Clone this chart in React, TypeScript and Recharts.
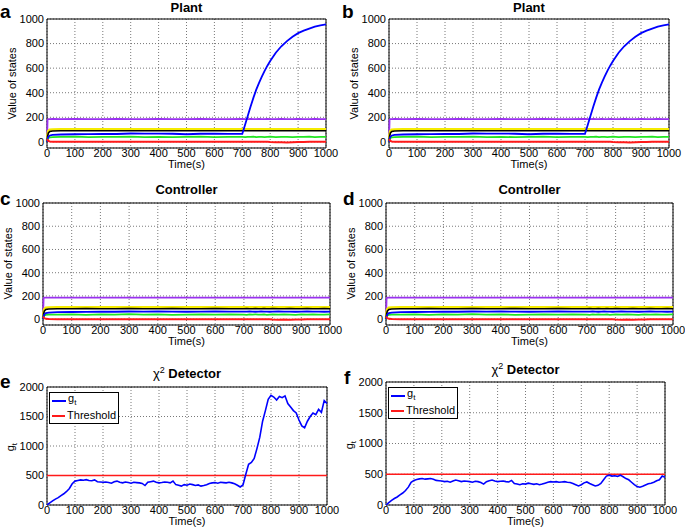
import React from "react"
import {
  LineChart, Line, XAxis, YAxis, CartesianGrid, ReferenceArea, ReferenceLine,
} from "recharts"

// sample times for the state plots (s)
const stateTime = [0, 2, 5, 10, 20, 50, 100, 150, 200, 250, 300, 350, 400, 450, 500, 550, 600, 650, 700,
  710, 720, 730, 740, 750, 760, 770, 780, 790, 800, 820, 840, 860, 880, 900, 920, 940, 960, 980, 1000]

const plantBlue = [0, 25, 42, 52, 57, 60, 62, 63, 64, 64, 68, 67, 67, 66, 62, 66, 66, 65, 65,
  140, 215, 290, 360, 425, 480, 530, 578, 620, 658, 725, 778, 820, 855, 885, 905, 922, 937, 948, 957]
const ctrlBlue = [0, 25, 42, 52, 57, 60, 62, 63, 64, 64, 66, 65, 66, 65, 64, 65, 66, 65, 65,
  65, 66, 65, 64, 65, 66, 65, 65, 64, 65, 66, 65, 65, 64, 65, 66, 65, 65, 64, 65]
const purple = [0, 180, 185, 185, 186, 185, 186, 185, 185, 186, 185, 185, 186, 185, 185, 186, 185, 185, 186,
  185, 185, 186, 185, 185, 186, 185, 185, 186, 185, 185, 186, 185, 185, 186, 185, 185, 186, 185, 185]
const yellow = [0, 60, 88, 98, 101, 102, 102, 103, 102, 102, 103, 102, 102, 103, 102, 102, 103, 102, 102,
  103, 102, 102, 103, 102, 102, 103, 102, 102, 103, 102, 102, 103, 102, 102, 103, 102, 102, 103, 102]
const black = [0, 45, 72, 84, 88, 90, 90, 91, 90, 90, 91, 90, 90, 91, 90, 90, 91, 90, 90,
  91, 90, 90, 91, 90, 90, 91, 90, 90, 91, 90, 90, 91, 90, 90, 91, 90, 90, 91, 90]
const green = [0, 22, 33, 37, 39, 40, 42, 38, 41, 40, 43, 39, 41, 38, 40, 42, 39, 41, 40,
  38, 41, 40, 42, 39, 40, 41, 38, 40, 42, 39, 41, 40, 38, 41, 40, 42, 39, 40, 41]
const red = [22, 15, 8, 3, 1, 0, 0, 0, 0, 0, 0, 0, 0, 0, 0, 0, 0, 0, 0,
  0, 0, 0, 0, 0, 0, 0, 0, 0, -2, -4, -3, -5, -3, -2, -1, 0, 0, 0, 0]

// detector samples every 10 s
const detTime = [0, 10, 20, 30, 40, 50, 60, 70, 80, 90, 100, 110, 120, 130, 140, 150, 160, 170, 180, 190,
  200, 210, 220, 230, 240, 250, 260, 270, 280, 290, 300, 310, 320, 330, 340, 350, 360, 370, 380, 390,
  400, 410, 420, 430, 440, 450, 460, 470, 480, 490, 500, 510, 520, 530, 540, 550, 560, 570, 580, 590,
  600, 610, 620, 630, 640, 650, 660, 670, 680, 690, 700, 710, 720, 730, 740, 750, 760, 770, 780, 790,
  800, 810, 820, 830, 840, 850, 860, 870, 880, 890, 900, 910, 920, 930, 940, 950, 960, 970, 980, 990, 1000]

const gtAttack = [0, 35, 70, 100, 125, 160, 190, 230, 280, 360, 405, 415, 425, 420, 430, 415, 410, 425, 395, 390,
  385, 390, 380, 370, 395, 405, 385, 375, 390, 380, 370, 385, 380, 375, 365, 330, 385, 395, 405, 385,
  375, 380, 390, 385, 375, 405, 345, 335, 320, 345, 335, 355, 345, 330, 340, 320, 330, 345, 365, 375,
  380, 370, 385, 380, 375, 385, 375, 360, 335, 305, 340, 520, 690, 720, 790, 960, 1150, 1420, 1600, 1790,
  1860, 1830, 1780, 1840, 1820, 1850, 1720, 1660, 1600, 1560, 1440, 1340, 1310, 1420, 1500, 1560, 1530, 1620, 1570, 1770, 1720]

const gtSecure = [0, 40, 75, 105, 130, 165, 195, 235, 290, 370, 400, 415, 425, 430, 420, 425, 430, 420, 400, 395,
  390, 380, 385, 370, 390, 405, 395, 380, 390, 385, 380, 370, 385, 380, 365, 340, 380, 395, 405, 390,
  380, 385, 390, 380, 375, 400, 350, 340, 330, 345, 340, 355, 345, 335, 345, 330, 340, 355, 370, 380,
  375, 380, 370, 375, 380, 370, 365, 350, 330, 310, 330, 360, 375, 350, 330, 310, 320, 350, 410, 470,
  485, 470, 475, 465, 485, 460, 430, 410, 370, 330, 300, 290, 305, 325, 345, 355, 370, 395, 410, 470, 450]

const thresholdLevel = 500

const timeTicks = [0, 100, 200, 300, 400, 500, 600, 700, 800, 900, 1000]
const stateTicks = [0, 200, 400, 600, 800, 1000]
const detTicks = [0, 500, 1000, 1500, 2000]

const FONT = '"Liberation Sans", Arial, Helvetica, sans-serif'
const ML = 45, MT = 25, MR = 15, MB = 35

interface Box { x0: number; x1: number; y0: number; y1: number }

const stateSeries = [
  { key: "purple", color: "#9a30f0", w: 1.8 },
  { key: "yellow", color: "#f5eb00", w: 2.6 },
  { key: "black", color: "#000000", w: 1.6 },
  { key: "green", color: "#22e622", w: 1.8 },
  { key: "blue", color: "#0000ff", w: 1.8 },
  { key: "red", color: "#ff1a1a", w: 2 },
]

function abs(left: number, top: number, extra: React.CSSProperties = {}): React.CSSProperties {
  return { position: "absolute", left, top, fontFamily: FONT, color: "#000", lineHeight: 1, whiteSpace: "nowrap", ...extra }
}

function Decor({ box, letter, letterX, title, titleY, letterY, ylabel }: {
  box: Box; letter: string; letterX: number; title: React.ReactNode; titleY: number; letterY: number; ylabel: React.ReactNode
}) {
  const cx = (box.x0 + box.x1) / 2
  const cy = (box.y0 + box.y1) / 2
  return (
    <>
      <div style={abs(letterX, letterY - 10, { fontSize: 19, fontWeight: 700 })}>{letter}</div>
      <div style={abs(cx - 100, titleY - 7, { width: 200, textAlign: "center", fontSize: 13, fontWeight: 700 })}>
        {title}
      </div>
      <div style={abs(cx - 50, box.y1 + 11, { width: 100, textAlign: "center", fontSize: 11 })}>Time(s)</div>
      <div style={abs(box.x0 - 35 - 60, cy - 6, { width: 120, textAlign: "center", fontSize: 11, transform: "rotate(-90deg)" })}>
        {ylabel}
      </div>
    </>
  )
}

function chartPos(box: Box) {
  return {
    left: box.x0 - ML,
    top: box.y0 - MT,
    width: box.x1 - box.x0 + ML + MR,
    height: box.y1 - box.y0 + MT + MB,
  }
}

function StatePanel({ box, letter, letterX, title, titleY, letterY, blue }: {
  box: Box; letter: string; letterX: number; title: string; titleY: number; letterY: number; blue: number[]
}) {
  const rows = stateTime.map((t, i) => ({
    t, purple: purple[i], yellow: yellow[i], black: black[i], green: green[i], blue: blue[i], red: red[i],
  }))
  const p = chartPos(box)
  return (
    <>
      <div style={{ position: "absolute", left: p.left, top: p.top }}>
        <LineChart width={p.width} height={p.height} data={rows} margin={{ top: MT, right: MR, bottom: 0, left: 0 }}>
          <CartesianGrid stroke="#555" strokeDasharray="1 2" strokeWidth={0.8} />
          <XAxis dataKey="t" type="number" domain={[0, 1000]} ticks={timeTicks} height={MB}
            tickSize={1} tickMargin={0} tickLine={false} axisLine={false} interval={0}
            tick={{ fontSize: 11, fill: "#000", fontFamily: FONT }} />
          <YAxis type="number" domain={[-50, 1000]} ticks={stateTicks} width={ML} allowDataOverflow
            tickSize={3} tickMargin={0} tickLine={false} axisLine={false} interval={0}
            tick={{ fontSize: 11, fill: "#000", fontFamily: FONT }} />
          {stateSeries.map((s) => (
            <Line key={s.key} dataKey={s.key} stroke={s.color} strokeWidth={s.w} dot={false}
              type="linear" isAnimationActive={false} />
          ))}
          <ReferenceArea x1={0} x2={1000} y1={-50} y2={1000} fill="none" stroke="#000" strokeWidth={1} />
        </LineChart>
      </div>
      <Decor box={box} letter={letter} letterX={letterX} title={title} titleY={titleY} letterY={letterY} ylabel="Value of states" />
    </>
  )
}

function DetectorLegend({ left, top }: { left: number; top: number }) {
  const item = (color: string, label: React.ReactNode) => (
    <div style={{ display: "flex", alignItems: "center", height: 15 }}>
      <span style={{ display: "inline-block", width: 14, height: 2, background: color, marginRight: 2 }} />
      <span>{label}</span>
    </div>
  )
  return (
    <div style={abs(left, top, {
      background: "#fff", border: "1px solid #000", padding: "0px 2px 0px 2px", width: 64, fontSize: 11,
    })}>
      {item("#0000ff", <span>g<sub style={{ fontSize: 8 }}>t</sub></span>)}
      {item("#ff1a1a", "Threshold")}
    </div>
  )
}

function DetectorPanel({ box, letter, letterX, titleY, letterY, values }: {
  box: Box; letter: string; letterX: number; titleY: number; letterY: number; values: number[]
}) {
  const rows = detTime.map((t, i) => ({ t, gt: values[i] }))
  const p = chartPos(box)
  return (
    <>
      <div style={{ position: "absolute", left: p.left, top: p.top }}>
        <LineChart width={p.width} height={p.height} data={rows} margin={{ top: MT, right: MR, bottom: 0, left: 0 }}>
          <CartesianGrid stroke="#555" strokeDasharray="1 2" strokeWidth={0.8} />
          <XAxis dataKey="t" type="number" domain={[0, 1000]} ticks={timeTicks} height={MB}
            tickSize={1} tickMargin={0} tickLine={false} axisLine={false} interval={0}
            tick={{ fontSize: 11, fill: "#000", fontFamily: FONT }} />
          <YAxis type="number" domain={[0, 2000]} ticks={detTicks} width={ML} allowDataOverflow
            tickSize={3} tickMargin={0} tickLine={false} axisLine={false} interval={0}
            tick={{ fontSize: 11, fill: "#000", fontFamily: FONT }} />
          <ReferenceLine y={thresholdLevel} stroke="#ff1a1a" strokeWidth={1.6} />
          <Line dataKey="gt" stroke="#0000ff" strokeWidth={1.6} dot={false} type="linear" isAnimationActive={false} />
          <ReferenceArea x1={0} x2={1000} y1={0} y2={2000} fill="none" stroke="#000" strokeWidth={1} />
        </LineChart>
      </div>
      <DetectorLegend left={box.x0 + 2} top={box.y0 + 5} />
      <Decor box={box} letter={letter} letterX={letterX} titleY={titleY} letterY={letterY}
        title={<span><span style={{ fontWeight: 400 }}>χ<sup style={{ fontSize: 9 }}>2</sup></span> Detector</span>}
        ylabel={<span>g<sub style={{ fontSize: 8 }}>t</sub></span>} />
    </>
  )
}

export default function App() {
  return (
    <div style={{ position: "absolute", left: 0, top: 0, width: 685, height: 530, background: "#fff", overflow: "hidden" }}>
      <StatePanel box={{ x0: 47, x1: 326, y0: 19, y1: 148 }} letter="a" letterX={0} title="Plant" titleY={8} letterY={12} blue={plantBlue} />
      <StatePanel box={{ x0: 389, x1: 669, y0: 19, y1: 148 }} letter="b" letterX={342} title="Plant" titleY={8} letterY={12} blue={plantBlue} />
      <StatePanel box={{ x0: 43, x1: 330, y0: 203, y1: 325 }} letter="c" letterX={0} title="Controller" titleY={190} letterY={199} blue={ctrlBlue} />
      <StatePanel box={{ x0: 386, x1: 673, y0: 203, y1: 325 }} letter="d" letterX={343} title="Controller" titleY={190} letterY={199} blue={ctrlBlue} />
      <DetectorPanel box={{ x0: 47, x1: 327, y0: 387, y1: 505 }} letter="e" letterX={0} titleY={373} letterY={382} values={gtAttack} />
      <DetectorPanel box={{ x0: 386, x1: 665, y0: 382, y1: 505 }} letter="f" letterX={344} titleY={369} letterY={378} values={gtSecure} />
    </div>
  )
}
